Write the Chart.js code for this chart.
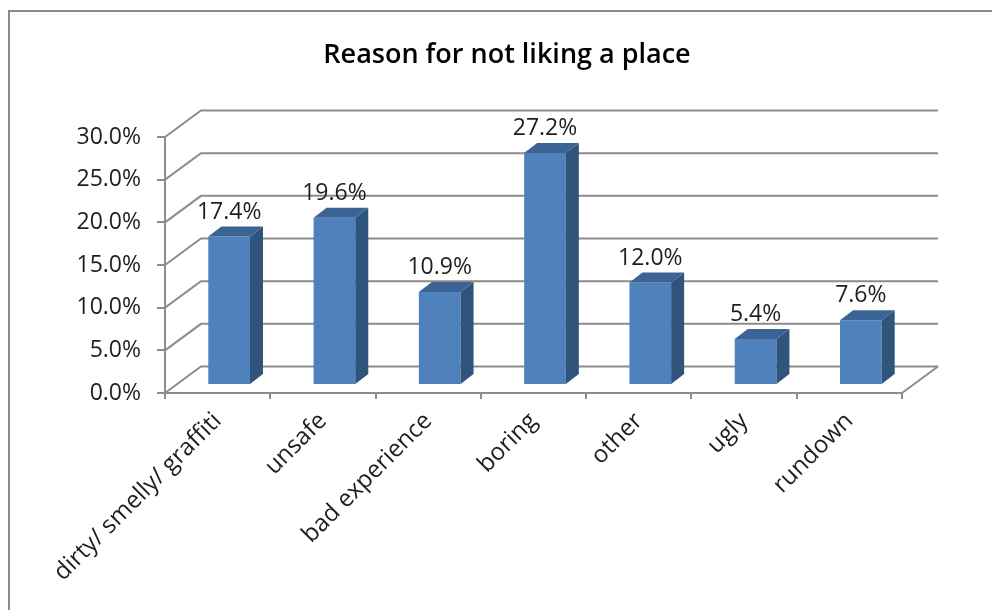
<!DOCTYPE html>
<html><head><meta charset="utf-8">
<script src="https://cdn.jsdelivr.net/npm/chart.js@4/dist/chart.umd.min.js"></script>
<style>html,body{margin:0;padding:0;background:#fff}canvas{display:block}</style>
</head><body>
<canvas id="c" width="992" height="610"></canvas>
<script>
const categories = ['dirty/ smelly/ graffiti', 'unsafe', 'bad experience', 'boring', 'other', 'ugly', 'rundown'];
const values = [0.174, 0.196, 0.109, 0.272, 0.120, 0.054, 0.076];
const yTicks = [0, 0.05, 0.10, 0.15, 0.20, 0.25, 0.30];
const titleText = 'Reason for not liking a place';

const FONT = '"Open Sans", Lato, sans-serif';
const GRID = '#8c8c8c';
const TEXT = '#1e1e1e';
const FRONT = '#4f81bd';
const SIDE = '#31547d';
const TOP = '#3b6495';
const WALL = {dx: 36, dy: -26.5};
const BAR_SHIFT = {dx: 11.5, dy: -8};
const DEPTH = {dx: 13, dy: -10};
const pct = v => (v * 100).toFixed(1) + '%';

const threeD = {
  id: 'threeD',
  beforeDraw(chart) {
    const ctx = chart.ctx;
    ctx.save();
    ctx.fillStyle = '#fff';
    ctx.fillRect(0, 0, chart.width, chart.height);
    ctx.strokeStyle = '#8a8a8a';
    ctx.lineWidth = 2;
    ctx.strokeRect(9, 11, chart.width + 20, chart.height + 20);
    ctx.fillStyle = '#000';
    ctx.font = '600 27px ' + FONT;
    ctx.textAlign = 'center';
    ctx.textBaseline = 'alphabetic';
    ctx.fillText(titleText, 507, 63);
    ctx.restore();
  },
  beforeDatasetsDraw(chart) {
    const {ctx, chartArea: a, scales: {y}} = chart;
    ctx.save();
    ctx.strokeStyle = GRID;
    ctx.lineWidth = 2;
    ctx.beginPath();
    y.ticks.forEach(t => {
      const py = y.getPixelForValue(t.value);
      ctx.moveTo(a.left, py);
      ctx.lineTo(a.left + WALL.dx, py + WALL.dy);
      ctx.lineTo(a.right + WALL.dx, py + WALL.dy);
    });
    ctx.moveTo(a.right, a.bottom);
    ctx.lineTo(a.right + WALL.dx, a.bottom + WALL.dy);
    ctx.stroke();
    ctx.restore();
    ctx.save();
    ctx.translate(BAR_SHIFT.dx, BAR_SHIFT.dy);
  },
  afterDatasetsDraw(chart) {
    const ctx = chart.ctx;
    ctx.restore();
    const meta = chart.getDatasetMeta(0);
    ctx.save();
    meta.data.forEach((bar, i) => {
      const p = bar.getProps(['x', 'y', 'base', 'width'], true);
      const l = p.x - p.width / 2 + BAR_SHIFT.dx, r = p.x + p.width / 2 + BAR_SHIFT.dx;
      const t = p.y + BAR_SHIFT.dy, b = p.base + BAR_SHIFT.dy;
      ctx.fillStyle = SIDE;
      ctx.beginPath();
      ctx.moveTo(r, t); ctx.lineTo(r + DEPTH.dx, t + DEPTH.dy);
      ctx.lineTo(r + DEPTH.dx, b + DEPTH.dy); ctx.lineTo(r, b);
      ctx.closePath(); ctx.fill();
      ctx.fillStyle = TOP;
      ctx.beginPath();
      ctx.moveTo(l, t); ctx.lineTo(l + DEPTH.dx, t + DEPTH.dy);
      ctx.lineTo(r + DEPTH.dx, t + DEPTH.dy); ctx.lineTo(r, t);
      ctx.closePath(); ctx.fill();
      ctx.fillStyle = TEXT;
      ctx.font = '23px ' + FONT;
      ctx.textAlign = 'center';
      ctx.textBaseline = 'alphabetic';
      ctx.fillText(pct(values[i]), p.x + BAR_SHIFT.dx, t + DEPTH.dy - 8);
    });
    ctx.restore();
  }
};

new Chart(document.getElementById('c'), {
  type: 'bar',
  data: {
    labels: categories,
    datasets: [{
      data: values,
      backgroundColor: FRONT,
      borderWidth: 0,
      categoryPercentage: 1,
      barPercentage: 0.396
    }]
  },
  options: {
    responsive: false,
    animation: false,
    devicePixelRatio: 1,
    layout: {padding: {top: 137, right: 90, left: 0, bottom: 0}},
    plugins: {legend: {display: false}, title: {display: false}, tooltip: {enabled: false}},
    scales: {
      x: {
        type: 'category',
        offset: true,
        afterFit(s) { s.height = 217; },
        grid: {display: true, drawOnChartArea: false, drawTicks: true, tickLength: 6, color: GRID, lineWidth: 2, offset: true},
        border: {color: GRID, width: 2},
        ticks: {font: {family: FONT, size: 24}, color: TEXT, minRotation: 45, maxRotation: 45, autoSkip: false, padding: 8}
      },
      y: {
        min: 0, max: 0.3,
        afterFit(s) { s.width = 165; },
        afterBuildTicks(s) { s.ticks = yTicks.map(v => ({value: v})); },
        grid: {drawOnChartArea: false, drawTicks: true, tickLength: 8, color: GRID, lineWidth: 2},
        border: {color: GRID, width: 2},
        ticks: {font: {family: FONT, size: 23}, color: TEXT, padding: 16, callback: v => pct(v)}
      }
    }
  },
  plugins: [threeD]
});
</script>
</body></html>
